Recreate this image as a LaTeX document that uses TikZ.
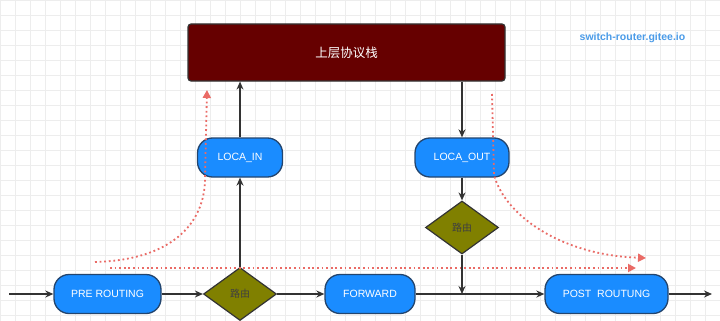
\documentclass[tikz,border=0pt]{standalone}
\usepackage{fontspec}
\setmainfont{Liberation Sans}
\newfontfamily\cjk{Noto Sans CJK SC}
\usepackage{xcolor}
\usepackage{tikz}
\usetikzlibrary{arrows.meta,positioning,shapes.geometric}

\definecolor{hookblue}{HTML}{1A8CFF}
\definecolor{hookedge}{HTML}{23456E}
\definecolor{stackred}{HTML}{660000}
\definecolor{routeolive}{HTML}{808000}
\definecolor{pathred}{HTML}{EA6B66}
\definecolor{markblue}{HTML}{4A9BE8}
\definecolor{wire}{HTML}{333333}

\tikzset{
  gridline/.style={gray!14,line width=0.4pt},
  hook/.style={draw=hookedge,line width=1.3pt,fill=hookblue,rounded corners=15pt,
    text=white,minimum height=39pt,inner sep=0pt,font=\fontsize{10.5}{12}\selectfont},
  route/.style={diamond,draw=wire,line width=1.2pt,fill=routeolive,aspect=1.38,
    minimum width=73pt,minimum height=53pt,inner sep=0pt,text=black!75,
    font=\cjk\fontsize{10}{12}\selectfont},
  stackbox/.style={draw=wire,line width=1.2pt,fill=stackred,rounded corners=3pt,
    minimum width=317pt,minimum height=57pt,text=white,
    font=\cjk\fontsize{12.5}{14}\selectfont},
  flow/.style={draw=wire,line width=1.3pt,-{Stealth[length=8pt,width=7pt]}},
  trace/.style={draw=pathred,line width=1.8pt,dash pattern=on 1.8pt off 2.8pt,
    -{Triangle[length=8pt,width=8pt]}}
}

\begin{document}
\begin{tikzpicture}[x=1pt,y=-1pt]
\useasboundingbox (0,0) rectangle (720,321);
\fill[white] (0,0) rectangle (720,321);
\foreach \gx in {0,15,...,720}
  \draw[gridline] (\gx,0) -- (\gx,321);
\foreach \gy in {0,15,...,315}
  \draw[gridline] (0,\gy) -- (720,\gy);

\node[stackbox] (stk) at (346.5,52.5) {上层协议栈};
\node[text=markblue,font=\bfseries\fontsize{10.5}{12}\selectfont] (mark) at (632.5,38) {switch-router.gitee.io};

\node[hook,minimum width=85pt] (lin) at (240,157.5) {LOCA\_IN};
\node[hook,minimum width=94pt] (lout) at (462,157.5) {LOCA\_OUT};
\node[route] (rtout) at (462,227.5) {路由};

\node[hook,minimum width=107pt] (pre) at (107.5,294) {PRE ROUTING};
\node[route] (rtin) at (240,294) {路由};
\node[hook,minimum width=90pt] (fwd) at (370,294) {FORWARD};
\node[hook,minimum width=123pt] (post) at (606.5,294) {POST\ \ ROUTUNG};

\coordinate (src) at (9,294);
\coordinate (sink) at (712,294);
\coordinate (join) at (462,294);

\draw[flow] (src) -- (pre);
\draw[flow] (pre) -- (rtin);
\draw[flow] (rtin) -- (fwd);
\draw[flow] (fwd) -- (post);
\draw[flow] (post) -- (sink);
\draw[flow] (rtin) -- (lin);
\draw[flow] (lin) -- (lin |- stk.south);
\draw[flow] (stk.south -| lout) -- (lout);
\draw[flow] (lout) -- (rtout);
\draw[flow] (rtout) -- (join);

% red traces
\coordinate (upA) at (95,262);
\coordinate (upB) at (207,90);
\coordinate (thruA) at (110,268);
\coordinate (thruB) at (636,268);
\coordinate (outA) at (492,94);
\coordinate (outB) at (646,258);
\draw[trace] (upA) .. controls (170,260) and (205,225) .. (205,178) -- (upB);
\draw[trace] (thruA) -- (thruB);
\draw[trace] (outA) -- (494,175) .. controls (505,215) and (560,255) .. (outB);
\end{tikzpicture}
\end{document}
